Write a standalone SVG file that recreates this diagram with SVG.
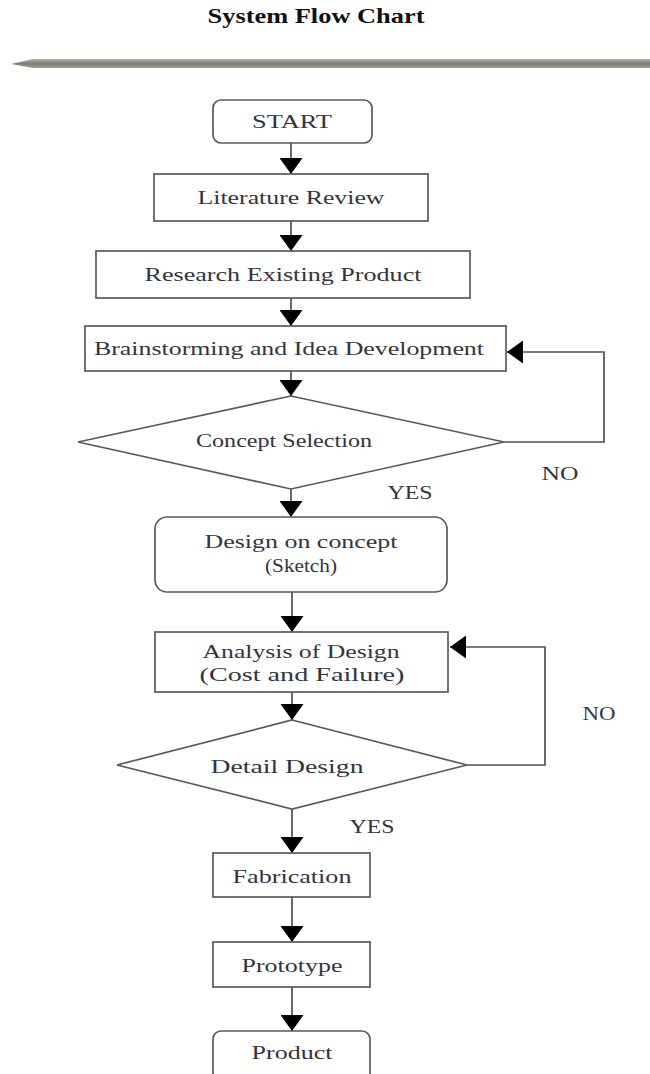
<svg xmlns="http://www.w3.org/2000/svg" width="650" height="1074" viewBox="0 0 650 1074">
<style>
.box{fill:#fff;stroke:#5a5a5a;stroke-width:1.7}
.t{font-family:"Liberation Serif","Times New Roman",serif;font-size:19px;fill:#34343c;text-anchor:middle}
.title{font-family:"Liberation Serif","Times New Roman",serif;font-size:21px;font-weight:bold;fill:#111;text-anchor:middle}
.c{fill:none;stroke:#505050;stroke-width:1.7}
</style>
<defs>
<marker id="ah" viewBox="0 0 16 23" refX="16" refY="11.5" markerWidth="16" markerHeight="23" markerUnits="userSpaceOnUse" orient="auto">
<path d="M0,0 L16,11.5 L0,23 z" fill="#000"/>
</marker>
<linearGradient id="bar" x1="0" y1="0" x2="0" y2="1">
<stop offset="0" stop-color="#b0b0a4"/>
<stop offset="0.5" stop-color="#808075"/>
<stop offset="1" stop-color="#9c9c90"/>
</linearGradient>
</defs>
<rect width="650" height="1074" fill="#fff"/>
<text class="title" x="316" y="23" textLength="217" lengthAdjust="spacingAndGlyphs">System Flow Chart</text>
<polygon points="11,64 33,59 650,59 650,68 33,68" fill="url(#bar)"/>

<g id="connectors">
<path class="c" d="M291,143 V174" marker-end="url(#ah)"/>
<path class="c" d="M291,221 V251" marker-end="url(#ah)"/>
<path class="c" d="M291,298 V326" marker-end="url(#ah)"/>
<path class="c" d="M291,371 V396" marker-end="url(#ah)"/>
<path class="c" d="M504,442 H604 V352 H507" marker-end="url(#ah)"/>
<path class="c" d="M291,489 V517" marker-end="url(#ah)"/>
<path class="c" d="M292,592 V632" marker-end="url(#ah)"/>
<path class="c" d="M292,692 V720" marker-end="url(#ah)"/>
<path class="c" d="M467,765 H545 V647 H450" marker-end="url(#ah)"/>
<path class="c" d="M292,809 V853" marker-end="url(#ah)"/>
<path class="c" d="M292,897 V942" marker-end="url(#ah)"/>
<path class="c" d="M292,987 V1031" marker-end="url(#ah)"/>
<text class="t" x="560" y="480" textLength="37" lengthAdjust="spacingAndGlyphs">NO</text>
<text class="t" x="410" y="499" textLength="45" lengthAdjust="spacingAndGlyphs">YES</text>
<text class="t" x="599" y="720" textLength="33" lengthAdjust="spacingAndGlyphs">NO</text>
<text class="t" x="372" y="833" textLength="45" lengthAdjust="spacingAndGlyphs">YES</text>
</g>

<g id="start">
<rect class="box" x="213" y="100" width="159" height="43" rx="8"/>
<text class="t" x="292" y="128" textLength="80" lengthAdjust="spacingAndGlyphs">START</text>
</g>
<g id="literature">
<rect class="box" x="154" y="174" width="274" height="47"/>
<text class="t" x="291" y="204" textLength="187" lengthAdjust="spacingAndGlyphs">Literature Review</text>
</g>
<g id="research">
<rect class="box" x="96" y="251" width="374" height="47"/>
<text class="t" x="283" y="281" textLength="277" lengthAdjust="spacingAndGlyphs">Research Existing Product</text>
</g>
<g id="brainstorm">
<rect class="box" x="85" y="326" width="421" height="45"/>
<text class="t" x="289" y="355" textLength="390" lengthAdjust="spacingAndGlyphs">Brainstorming and Idea Development</text>
</g>
<g id="concept">
<polygon class="box" points="291,396 504,442 291,489 78,442"/>
<text class="t" x="284" y="447" textLength="176" lengthAdjust="spacingAndGlyphs">Concept Selection</text>
</g>
<g id="design">
<rect class="box" x="155" y="517" width="292" height="75" rx="12"/>
<text class="t" x="301" y="548" textLength="193" lengthAdjust="spacingAndGlyphs">Design on concept</text>
<text class="t" x="301" y="572" textLength="72" lengthAdjust="spacingAndGlyphs">(Sketch)</text>
</g>
<g id="analysis">
<rect class="box" x="155" y="632" width="293" height="60"/>
<text class="t" x="301" y="658" textLength="197" lengthAdjust="spacingAndGlyphs">Analysis of Design</text>
<text class="t" x="302" y="681" textLength="205" lengthAdjust="spacingAndGlyphs">(Cost and Failure)</text>
</g>
<g id="detail">
<polygon class="box" points="292,720 467,765 292,809 117,765"/>
<text class="t" x="287" y="773" textLength="153" lengthAdjust="spacingAndGlyphs">Detail Design</text>
</g>
<g id="fabrication">
<rect class="box" x="213" y="853" width="157" height="44"/>
<text class="t" x="292" y="883" textLength="119" lengthAdjust="spacingAndGlyphs">Fabrication</text>
</g>
<g id="prototype">
<rect class="box" x="213" y="942" width="157" height="45"/>
<text class="t" x="292" y="972" textLength="101" lengthAdjust="spacingAndGlyphs">Prototype</text>
</g>
<g id="product">
<rect class="box" x="213" y="1031" width="157" height="50" rx="8"/>
<text class="t" x="292" y="1059" textLength="81" lengthAdjust="spacingAndGlyphs">Product</text>
</g>
</svg>
